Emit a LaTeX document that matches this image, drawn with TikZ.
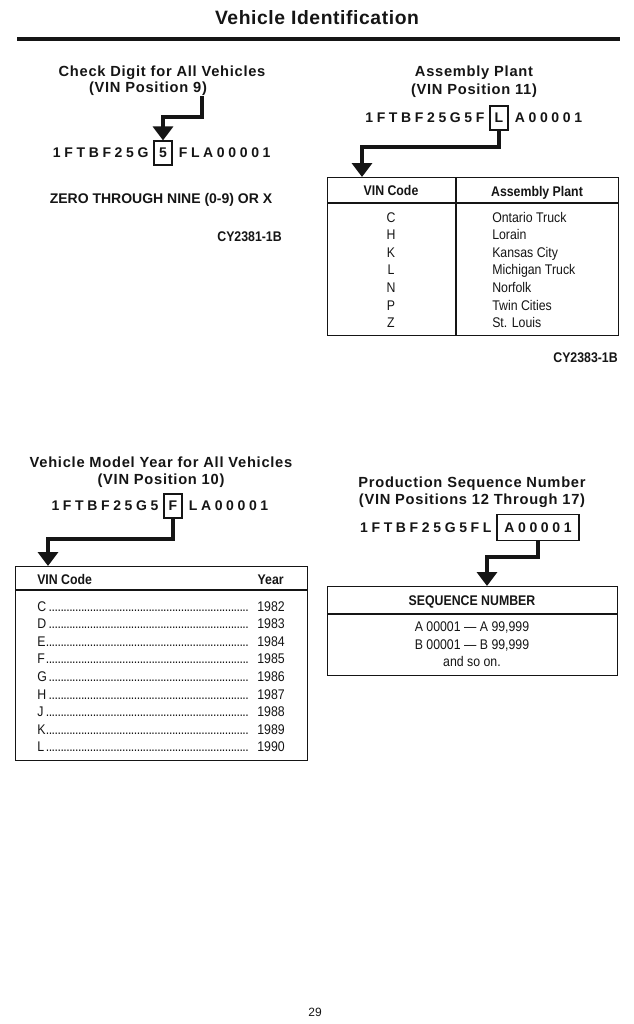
\documentclass[tikz,border=0pt]{standalone}
\usepackage{fontspec}
\setmainfont{Liberation Sans}
\newfontfamily\narrowfont[FakeStretch=0.88]{Liberation Sans}
\usetikzlibrary{positioning, calc, arrows.meta}
\definecolor{Ink}{HTML}{151515}
\newcommand{\dotrow}{\leaders\hbox to 2.2pt{\hss.\hss}\hfill}

\begin{document}
\begin{tikzpicture}[x=0.75pt, y=-0.75pt, color=Ink,
    heading/.style={font=\bfseries\fontsize{11}{13}\selectfont\addfontfeature{LetterSpace=5}, inner sep=0pt, anchor=base},
    vin/.style={font=\bfseries\fontsize{10.5}{12}\selectfont\addfontfeature{LetterSpace=26}, inner sep=0pt},
    vinbox/.style={draw, line width=0.9pt, font=\bfseries\fontsize{10.5}{12}\selectfont, minimum width=13.5pt, minimum height=18pt, inner sep=1.5pt},
    bigarrow/.style={line width=3pt, -{Triangle[width=15pt,length=10.5pt]}},
    tbl/.style={draw, line width=1pt, inner sep=0pt, anchor=north west},
    cell/.style={font=\narrowfont\fontsize{10.5}{12}\selectfont, inner sep=0pt, anchor=base},
    cellhead/.style={cell, font=\narrowfont\bfseries\fontsize{10.5}{12}\selectfont},
    code/.style={font=\narrowfont\bfseries\fontsize{10.5}{12}\selectfont, inner sep=0pt, anchor=base east}]
  \useasboundingbox[fill=white] (0,0) rectangle (634,1024);

  % Title
  \node[heading, font=\bfseries\fontsize{14.5}{16}\selectfont\addfontfeature{LetterSpace=3}] (title) at (317,25) {Vehicle Identification};
  \draw[line width=3pt] (17,39.5) -- (620,39.5);

  % Check digit
  \node[heading] (h1a) at (162,76) {Check Digit for All Vehicles};
  \node[heading] (h1b) at (148,93) {(VIN Position 9)};
  \coordinate (c1) at (202,96);
  \node[vinbox] (b1) at (163,153) {5};
  \node[vin, left=3.5pt of b1] (v1a) {1FTBF25G};
  \node[vin, right=4.5pt of b1] (v1c) {FLA00001};
  \draw[bigarrow] (c1) -- ++(0,21) -| (b1.north);
  \node[heading, font=\bfseries\fontsize{10.5}{12}\selectfont] (zero) at (161,203) {ZERO THROUGH NINE (0-9) OR X};
  \node[code] (cy1) at (282,241) {CY2381-1B};

  % Assembly plant
  \node[heading] (h2a) at (474,77) {Assembly Plant};
  \node[heading] (h2b) at (474,94) {(VIN Position 11)};
  \node[vinbox] (b2) at (499,118) {L};
  \node[vin, left=3.5pt of b2] (v2a) {1FTBF25G5F};
  \node[vin, right=4.5pt of b2] (v2c) {A00001};
  \node[tbl, minimum width=218.25pt, minimum height=118.5pt] (t2) at (327,177) {};
  \draw[bigarrow] (b2.south) -- ++(0,16) -| ($(t2.north west)+(35,0)$);
  \draw[line width=1pt] (t2.west |- 0,203) -- (t2.east |- 0,203);
  \draw[line width=1pt] (456,0 |- t2.north) -- (456,0 |- t2.south);
  \node[cellhead] (t2h1) at (391,195) {VIN Code};
  \node[cellhead] (t2h2) at (537,196) {Assembly Plant};
  \foreach \code/\plant [count=\i from 0] in {C/Ontario Truck, H/Lorain, K/Kansas City,
      L/Michigan Truck, N/Norfolk, P/Twin Cities, Z/St. Louis} {
    \node[cell] (pc\i) at (391,222+17.6*\i) {\code};
    \node[cell, anchor=base west] (pn\i) at (492,222+17.6*\i) {\plant};
  }
  \node[code] (cy2) at (618,362) {CY2383-1B};

  % Model year
  \node[heading] (h3a) at (161,467) {Vehicle Model Year for All Vehicles};
  \node[heading] (h3b) at (161,484) {(VIN Position 10)};
  \node[vinbox] (b3) at (173,506) {F};
  \node[vin, left=3.5pt of b3] (v3a) {1FTBF25G5};
  \node[vin, right=4.5pt of b3] (v3c) {LA00001};
  \node[tbl, minimum width=219pt, minimum height=145.5pt] (t3) at (15,566) {};
  \draw[bigarrow] (b3.south) -- ++(0,20) -| ($(t3.north west)+(33,0)$);
  \draw[line width=1pt] (t3.west |- 0,590) -- (t3.east |- 0,590);
  \node[cellhead, anchor=base west] (t3h1) at (37,584) {VIN Code};
  \node[cellhead, anchor=base east] (t3h2) at (284,584) {Year};
  \foreach \code/\yr [count=\i from 0] in {C/1982, D/1983, E/1984, F/1985, G/1986,
      H/1987, J/1988, K/1989, L/1990} {
    \node[cell, anchor=base west] (yc\i) at (37,611+17.6*\i) {\makebox[159pt][l]{\code\dotrow}};
    \node[cell, anchor=base east] (yy\i) at (285,611+17.6*\i) {\yr};
  }

  % Production sequence
  \node[heading] (h4a) at (472,487) {Production Sequence Number};
  \node[heading] (h4b) at (472,504) {(VIN Positions 12 Through 17)};
  \node[vinbox, minimum width=61.5pt, minimum height=20pt, font=\bfseries\fontsize{10.5}{12}\selectfont\addfontfeature{LetterSpace=26}] (b4) at (538,527.5) {A00001};
  \node[vin, left=3.5pt of b4] (v4a) {1FTBF25G5FL};
  \node[tbl, minimum width=217.5pt, minimum height=66.75pt] (t4) at (327,586) {};
  \draw[bigarrow] (b4.south) -- ++(0,16) -| ($(t4.north west)+(160,0)$);
  \draw[line width=1pt] (t4.west |- 0,614) -- (t4.east |- 0,614);
  \node[cellhead] (t4h) at (472,605) {SEQUENCE NUMBER};
  \node[cell] (s1) at (472,631) {A 00001 — A 99,999};
  \node[cell] (s2) at (472,649) {B 00001 — B 99,999};
  \node[cell] (s3) at (472,666) {and so on.};

  % Page number
  \node[cell, font=\fontsize{9}{11}\selectfont] (page) at (315,1016) {29};
\end{tikzpicture}
\end{document}
